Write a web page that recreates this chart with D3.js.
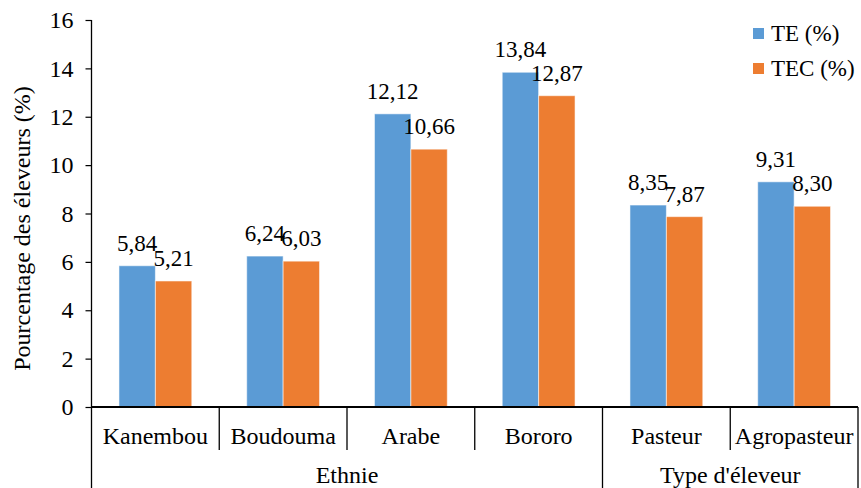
<!DOCTYPE html>
<html>
<head>
<meta charset="utf-8">
<script src="https://cdn.jsdelivr.net/npm/d3@7"></script>
</head>
<body style="margin:0;background:#fff">
<svg id="chart" width="861" height="488" style="display:block;font-family:'Liberation Serif','Times New Roman',Tinos,serif"></svg>
<script>
// Categories, grouped by their parent heading
const categories = ["Kanembou", "Boudouma", "Arabe", "Bororo", "Pasteur", "Agropasteur"];
const groups = ["Ethnie", "Ethnie", "Ethnie", "Ethnie", "Type d'éleveur", "Type d'éleveur"];
const seriesNames = ["TE (%)", "TEC (%)"];
const teValues = [5.84, 6.24, 12.12, 13.84, 8.35, 9.31];
const tecValues = [5.21, 6.03, 10.66, 12.87, 7.87, 8.30];
const yTicks = [0, 2, 4, 6, 8, 10, 12, 14, 16];
const yTitle = "Pourcentage des éleveurs (%)";

const colors = ["#5B9BD5", "#ED7D31"];
const seriesValues = [teValues, tecValues];
const serif = "'Liberation Serif', 'Times New Roman', Tinos, serif";

const svg = d3.select("#chart");
const plotLeft = 91.5, plotRight = 858, plotTop = 20, plotBottom = 407;

const x0 = d3.scaleBand().domain(categories).range([plotLeft, plotRight]).paddingInner(0.43).paddingOuter(0.215);
const x1 = d3.scaleBand().domain(seriesNames).range([0, x0.bandwidth()]);
const y = d3.scaleLinear().domain([0, 16]).range([plotBottom, plotTop]);

function label(sel, size) {
  return sel
    .attr("font-family", serif)
    .attr("font-size", size)
    .style("font-family", serif)
    .attr("fill", "#000");
}

// Bars
categories.forEach((c, i) => {
  const g = svg.append("g").attr("transform", `translate(${x0(c)},0)`);
  seriesNames.forEach((s, j) => {
    const v = seriesValues[j][i];
    g.append("rect")
      .attr("x", x1(s))
      .attr("y", y(v))
      .attr("width", x1.bandwidth())
      .attr("height", y(0) - y(v))
      .attr("fill", colors[j])
      .attr("stroke", "rgba(255,255,255,0.55)")
      .attr("stroke-width", 1);
  });
});

// Value labels (drawn after bars so they sit on top)
categories.forEach((c, i) => {
  seriesNames.forEach((s, j) => {
    const v = seriesValues[j][i];
    label(svg.append("text"), 23)
      .attr("x", x0(c) + x1(s) + x1.bandwidth() / 2)
      .attr("y", y(v) - 15)
      .attr("text-anchor", "middle")
      .text(d3.format(".2f")(v).replace(".", ","));
  });
});

// Y axis
const yAxis = d3.axisLeft(y).tickValues(yTicks).tickSize(6).tickPadding(12);
const ya = svg.append("g").attr("transform", `translate(${plotLeft},0)`).call(yAxis);
ya.attr("font-family", serif).attr("font-size", 24);
ya.select(".domain").remove();
ya.selectAll(".tick line").attr("stroke", "#000").attr("stroke-width", 1.2);
label(ya.selectAll(".tick text"), 24);
svg.append("line").attr("x1", plotLeft).attr("x2", plotLeft).attr("y1", plotTop).attr("y2", 488)
  .attr("stroke", "#000").attr("stroke-width", 1.3);

// X axis baseline
svg.append("line").attr("x1", plotLeft).attr("x2", plotRight).attr("y1", plotBottom).attr("y2", plotBottom)
  .attr("stroke", "#000").attr("stroke-width", 2);

// Category separators: short between categories, full height between groups
const step = x0.step();
categories.forEach((c, i) => {
  const xr = plotLeft + step * (i + 1);
  const groupEnd = i === categories.length - 1 || groups[i] !== groups[i + 1];
  svg.append("line").attr("x1", xr).attr("x2", xr)
    .attr("y1", plotBottom).attr("y2", groupEnd ? 488 : 450)
    .attr("stroke", "#000").attr("stroke-width", 1.3);
  label(svg.append("text"), 24)
    .attr("x", plotLeft + step * (i + 0.5))
    .attr("y", 444)
    .attr("text-anchor", "middle")
    .text(c);
});

// Group labels
const groupNames = Array.from(new Set(groups));
groupNames.forEach(gn => {
  const idx = groups.map((g, i) => g === gn ? i : -1).filter(i => i >= 0);
  const xs = plotLeft + step * idx[0];
  const xe = plotLeft + step * (idx[idx.length - 1] + 1);
  label(svg.append("text"), 24)
    .attr("x", (xs + xe) / 2)
    .attr("y", 483)
    .attr("text-anchor", "middle")
    .text(gn);
});

// Y axis title
label(svg.append("text"), 24)
  .attr("transform", `translate(30,${(85 + 372) / 2}) rotate(-90)`)
  .attr("text-anchor", "middle")
  .text(yTitle);

// Legend
seriesNames.forEach((s, j) => {
  const ly = 33 + j * 35;
  svg.append("rect").attr("x", 753).attr("y", ly - 5).attr("width", 11).attr("height", 11).attr("fill", colors[j]);
  label(svg.append("text"), 23).attr("x", 771).attr("y", ly + 8).text(s);
});
</script>
</body>
</html>
